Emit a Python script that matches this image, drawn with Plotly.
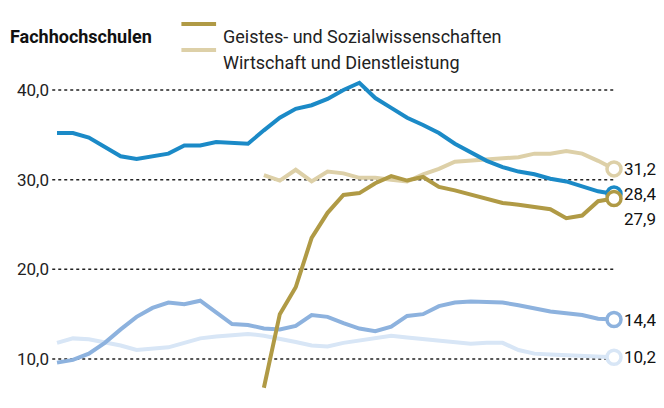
import plotly.graph_objects as go

# 36 equally spaced periods, no x labels in the reference
periods = list(range(36))

gesamt_dark = [35.2, 35.2, 34.7, 33.6, 32.6, 32.3, 32.6, 32.9, 33.8, 33.8, 34.2, 34.1,
               34.0, 35.5, 36.9, 37.9, 38.3, 39.0, 40.0, 40.8, 39.1, 38.0, 36.9, 36.1,
               35.2, 34.0, 33.0, 32.1, 31.4, 30.9, 30.6, 30.1, 29.8, 29.2, 28.7, 28.4]
medium_blue = [9.6, 9.9, 10.6, 11.8, 13.3, 14.7, 15.7, 16.3, 16.1, 16.5, 15.2, 13.9,
               13.8, 13.4, 13.3, 13.7, 14.9, 14.7, 14.0, 13.4, 13.1, 13.6, 14.8, 15.0,
               15.9, 16.3, 16.4, 16.4, 16.3, 16.0, 15.6, 15.3, 15.1, 14.9, 14.5, 14.4]
light_blue = [11.8, 12.3, 12.2, 11.9, 11.5, 11.0, 11.1, 11.3, 11.8, 12.3, 12.5, 12.6,
              12.8, 12.6, 12.3, 11.9, 11.5, 11.4, 11.8, 12.1, 12.4, 12.6, 12.4, 12.2,
              12.0, 11.8, 11.7, 11.8, 11.8, 11.0, 10.6, 10.5, 10.4, 10.3, 10.3, 10.2]
geistes = [None] * 13 + [6.8, 15.0, 18.0, 23.5, 26.3, 28.3, 28.5, 29.6, 30.4, 29.9, 30.3,
                         29.2, 28.8, 28.3, 27.8, 27.4, 27.2, 27.0, 26.7, 25.7, 26.0, 27.6, 27.9]
wirtschaft = [None] * 13 + [30.5, 29.9, 31.1, 29.8, 30.9, 30.7, 30.2, 30.2, 30.0, 29.8, 30.6,
                            31.2, 32.0, 32.1, 32.2, 32.4, 32.5, 32.9, 32.9, 33.2, 32.9, 32.1, 31.2]

y_ticks = [10, 20, 30, 40]
y_tick_labels = ["10,0", "20,0", "30,0", "40,0"]

series = [
    (light_blue, "#d8e6f6", "10,2", 0),
    (medium_blue, "#8db2de", "14,4", 0),
    (wirtschaft, "#ddd0a8", "31,2", 0),
    (gesamt_dark, "#1b8ac7", "28,4", 0),
    (geistes, "#b09a45", "27,9", -21),
]

FONT = 'Roboto, sans-serif'
TOP = 60          # plot area top, px
PLOT_H = 325      # plot area height, px


def paper_y(ypix):
    return 1 + (TOP - ypix) / PLOT_H


fig = go.Figure()
for values, color, label, shift in series:
    fig.add_trace(go.Scatter(
        x=periods, y=values, mode='lines',
        line=dict(color=color, width=4),
        hoverinfo='skip', showlegend=False, cliponaxis=False
    ))
    fig.add_trace(go.Scatter(
        x=[periods[-1]], y=[values[-1]], mode='markers',
        marker=dict(size=14, color='white', line=dict(color=color, width=3.5)),
        hoverinfo='skip', showlegend=False, cliponaxis=False
    ))
    fig.add_annotation(
        x=periods[-1], y=values[-1], text=label, showarrow=False,
        xanchor='left', xshift=8, yshift=shift,
        font=dict(size=17, color='#111', family=FONT)
    )

# ====================== LEGEND ======================
fig.add_annotation(x=0, y=paper_y(16), xref='paper', yref='paper',
                   text='<b>Fachhochschulen</b>', showarrow=False, xanchor='left',
                   font=dict(size=18, color='#111', family=FONT))
for row, (name, color) in enumerate([("Geistes- und Sozialwissenschaften", "#b09a45"),
                                     ("Wirtschaft und Dienstleistung", "#ddd0a8")]):
    ypix = 16 + 26 * row
    fig.add_shape(type='line', xref='paper', yref='paper',
                  x0=190 / 664, x1=228 / 664, y0=paper_y(ypix), y1=paper_y(ypix),
                  line=dict(color=color, width=4))
    fig.add_annotation(x=233 / 664, y=paper_y(ypix), xref='paper', yref='paper',
                       text=name, showarrow=False, xanchor='left',
                       font=dict(size=18, color='#222', family=FONT))

fig.update_layout(
    width=664, height=408,
    margin=dict(l=0, r=58, t=TOP, b=408 - TOP - PLOT_H, autoexpand=False),
    plot_bgcolor='white', paper_bgcolor='white',
    xaxis=dict(range=[-3.08, 35], showgrid=False, zeroline=False, showticklabels=False),
    yaxis=dict(range=[6.21, 42.45], showgrid=False, zeroline=False, showticklabels=False),
)

# dotted gridlines with labels sitting left of them
for v, lab in zip(y_ticks, y_tick_labels):
    fig.add_shape(type='line', x0=-0.3, x1=35, y0=v, y1=v, layer='below',
                  line=dict(color='#222', width=1.5, dash='dot'))
    fig.add_annotation(x=-0.3, y=v, text=lab, showarrow=False, xanchor='right', xshift=-1,
                       font=dict(size=17, color='#222', family=FONT))

fig.write_html("out.html")
